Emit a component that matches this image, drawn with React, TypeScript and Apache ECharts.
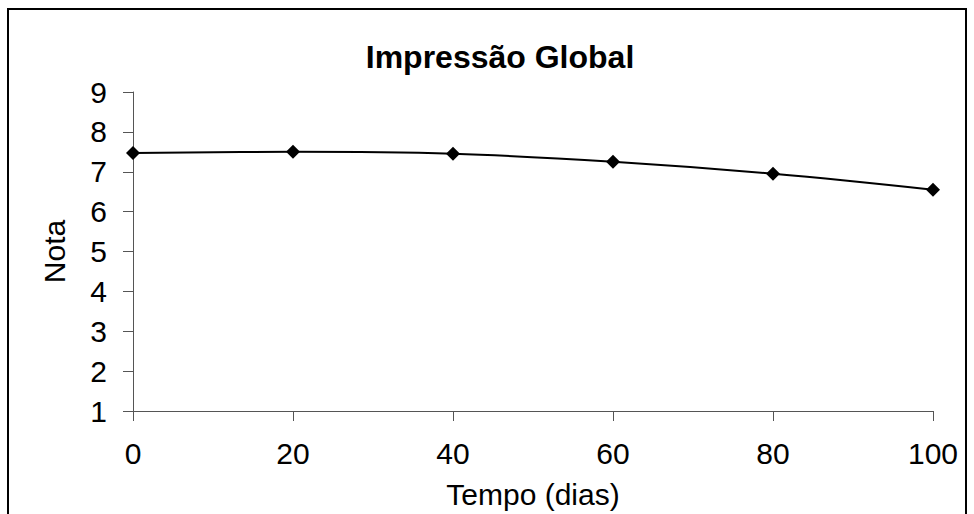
import React, { useEffect, useRef } from "react";
import * as echarts from "echarts";

const days = [0, 20, 40, 60, 80, 100];
const scores = [7.47, 7.5, 7.45, 7.25, 6.95, 6.55];
const yTicks = [1, 9, 1];
const chartTitle = "Impressão Global";
const xName = "Tempo (dias)";
const yName = "Nota";

const FONT = "Liberation Sans, Arial, sans-serif";

export default function App() {
  const ref = useRef<HTMLDivElement>(null);
  useEffect(() => {
    if (!ref.current) return;
    const chart = echarts.init(ref.current, null, { renderer: "svg" });
    chart.setOption({
      animation: false,
      backgroundColor: "#fff",
      title: {
        text: chartTitle,
        left: 495,
        top: 36,
        textAlign: "center",
        textStyle: { fontFamily: FONT, fontSize: 32, fontWeight: "bold", color: "#000" },
      },
      grid: { left: 133, right: 41, top: 92, bottom: 102, containLabel: false },
      xAxis: {
        type: "value",
        min: 0,
        max: 100,
        interval: 20,
        name: xName,
        nameLocation: "middle",
        nameGap: 68,
        nameTextStyle: { fontFamily: FONT, fontSize: 30, color: "#000" },
        axisLine: { show: true, lineStyle: { color: "#555", width: 1 } },
        axisTick: { show: true, length: 10, inside: false, lineStyle: { color: "#555" } },
        axisLabel: { fontFamily: FONT, fontSize: 30, color: "#000", margin: 27 },
        splitLine: { show: false },
      },
      yAxis: {
        type: "value",
        min: yTicks[0],
        max: yTicks[1],
        interval: yTicks[2],
        name: yName,
        nameLocation: "middle",
        nameGap: 64,
        nameRotate: 90,
        nameTextStyle: { fontFamily: FONT, fontSize: 30, color: "#000" },
        axisLine: { show: true, lineStyle: { color: "#555", width: 1 } },
        axisTick: { show: true, length: 10, inside: false, lineStyle: { color: "#555" } },
        axisLabel: { fontFamily: FONT, fontSize: 30, color: "#000", margin: 26 },
        splitLine: { show: false },
      },
      graphic: [
        {
          type: "rect",
          shape: { x: 8, y: 9, width: 958, height: 600 },
          style: { fill: "none", stroke: "#000", lineWidth: 2 },
          silent: true,
        },
      ],
      series: [
        {
          type: "line",
          data: days.map((d, i) => [d, scores[i]]),
          smooth: 0.4,
          symbol: "diamond",
          symbolSize: 14,
          lineStyle: { color: "#000", width: 2 },
          itemStyle: { color: "#000" },
        },
      ],
    });
    return () => chart.dispose();
  }, []);
  return (
    <div
      ref={ref}
      style={{ position: "absolute", left: 0, top: 0, width: 974, height: 514 }}
    />
  );
}
